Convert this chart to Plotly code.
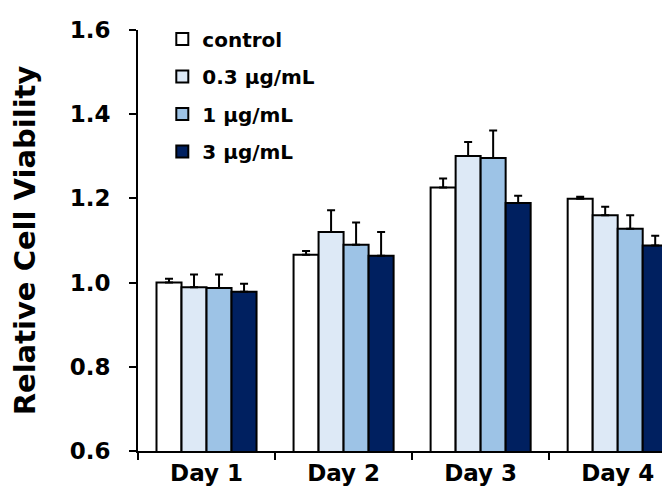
import plotly.graph_objects as go

days = ["Day 1", "Day 2", "Day 3", "Day 4"]
series_names = ["control", "0.3 µg/mL", "1 µg/mL", "3 µg/mL"]
control = [1.000, 1.066, 1.226, 1.199]
dose_03 = [0.989, 1.120, 1.301, 1.160]
dose_1 = [0.987, 1.090, 1.296, 1.128]
dose_3 = [0.978, 1.064, 1.189, 1.088]
err_control = [0.009, 0.009, 0.021, 0.005]
err_03 = [0.030, 0.052, 0.033, 0.020]
err_1 = [0.032, 0.053, 0.065, 0.032]
err_3 = [0.019, 0.056, 0.017, 0.023]
y_ticks = [0.6, 0.8, 1.0, 1.2, 1.4, 1.6]

values = [control, dose_03, dose_1, dose_3]
errors = [err_control, err_03, err_1, err_3]
colors = ["#ffffff", "#dde9f6", "#9dc3e6", "#002060"]

font = "DejaVu Sans, Verdana, sans-serif"

fig = go.Figure()
for i, (name, vals, errs, col) in enumerate(zip(series_names, values, errors, colors)):
    fig.add_trace(go.Bar(
        x=days, y=vals, name="<b>%s</b>" % name,
        legendgroup="g%d" % i,
        marker=dict(color=col, line=dict(color="black", width=2)),
        error_y=dict(type="data", symmetric=False, array=errs,
                     arrayminus=[0] * len(errs), color="black",
                     thickness=2, width=4),
    ))

fig.update_layout(
    width=670, height=499,
    margin=dict(l=130, r=0, t=22, b=56),
    paper_bgcolor="white", plot_bgcolor="white",
    barmode="group", bargap=0.27, bargroupgap=0,
    font=dict(family=font, color="black"),
    legend=dict(x=0.045, y=1.025, xanchor="left", yanchor="top",
                font=dict(size=20, family=font, color="black"),
                tracegroupgap=8.5, itemwidth=30,
                bgcolor="rgba(0,0,0,0)"),
    showlegend=True,
)
fig.update_xaxes(
    type="category", range=[-0.5, 3.44], tickson="boundaries",
    ticks="outside", ticklen=7, tickwidth=2, tickcolor="black",
    showline=True, linecolor="black", linewidth=2,
    tickfont=dict(size=23, family=font, color="black"),
    tickprefix="<b>", ticksuffix="</b>", showgrid=False,
)
fig.update_yaxes(
    range=[0.6, 1.6], tickvals=y_ticks,
    ticktext=["<b>%.1f</b>" % v for v in y_ticks],
    ticks="outside", ticklen=7, tickwidth=2, tickcolor="black",
    ticklabelstandoff=14,
    showline=True, linecolor="black", linewidth=2,
    tickfont=dict(size=23, family=font, color="black"),
    showgrid=False, zeroline=False,
    title=dict(text="<b>Relative Cell Viability</b>",
               font=dict(size=29, family=font, color="black"), standoff=26),
)

fig.write_html("out.html")
